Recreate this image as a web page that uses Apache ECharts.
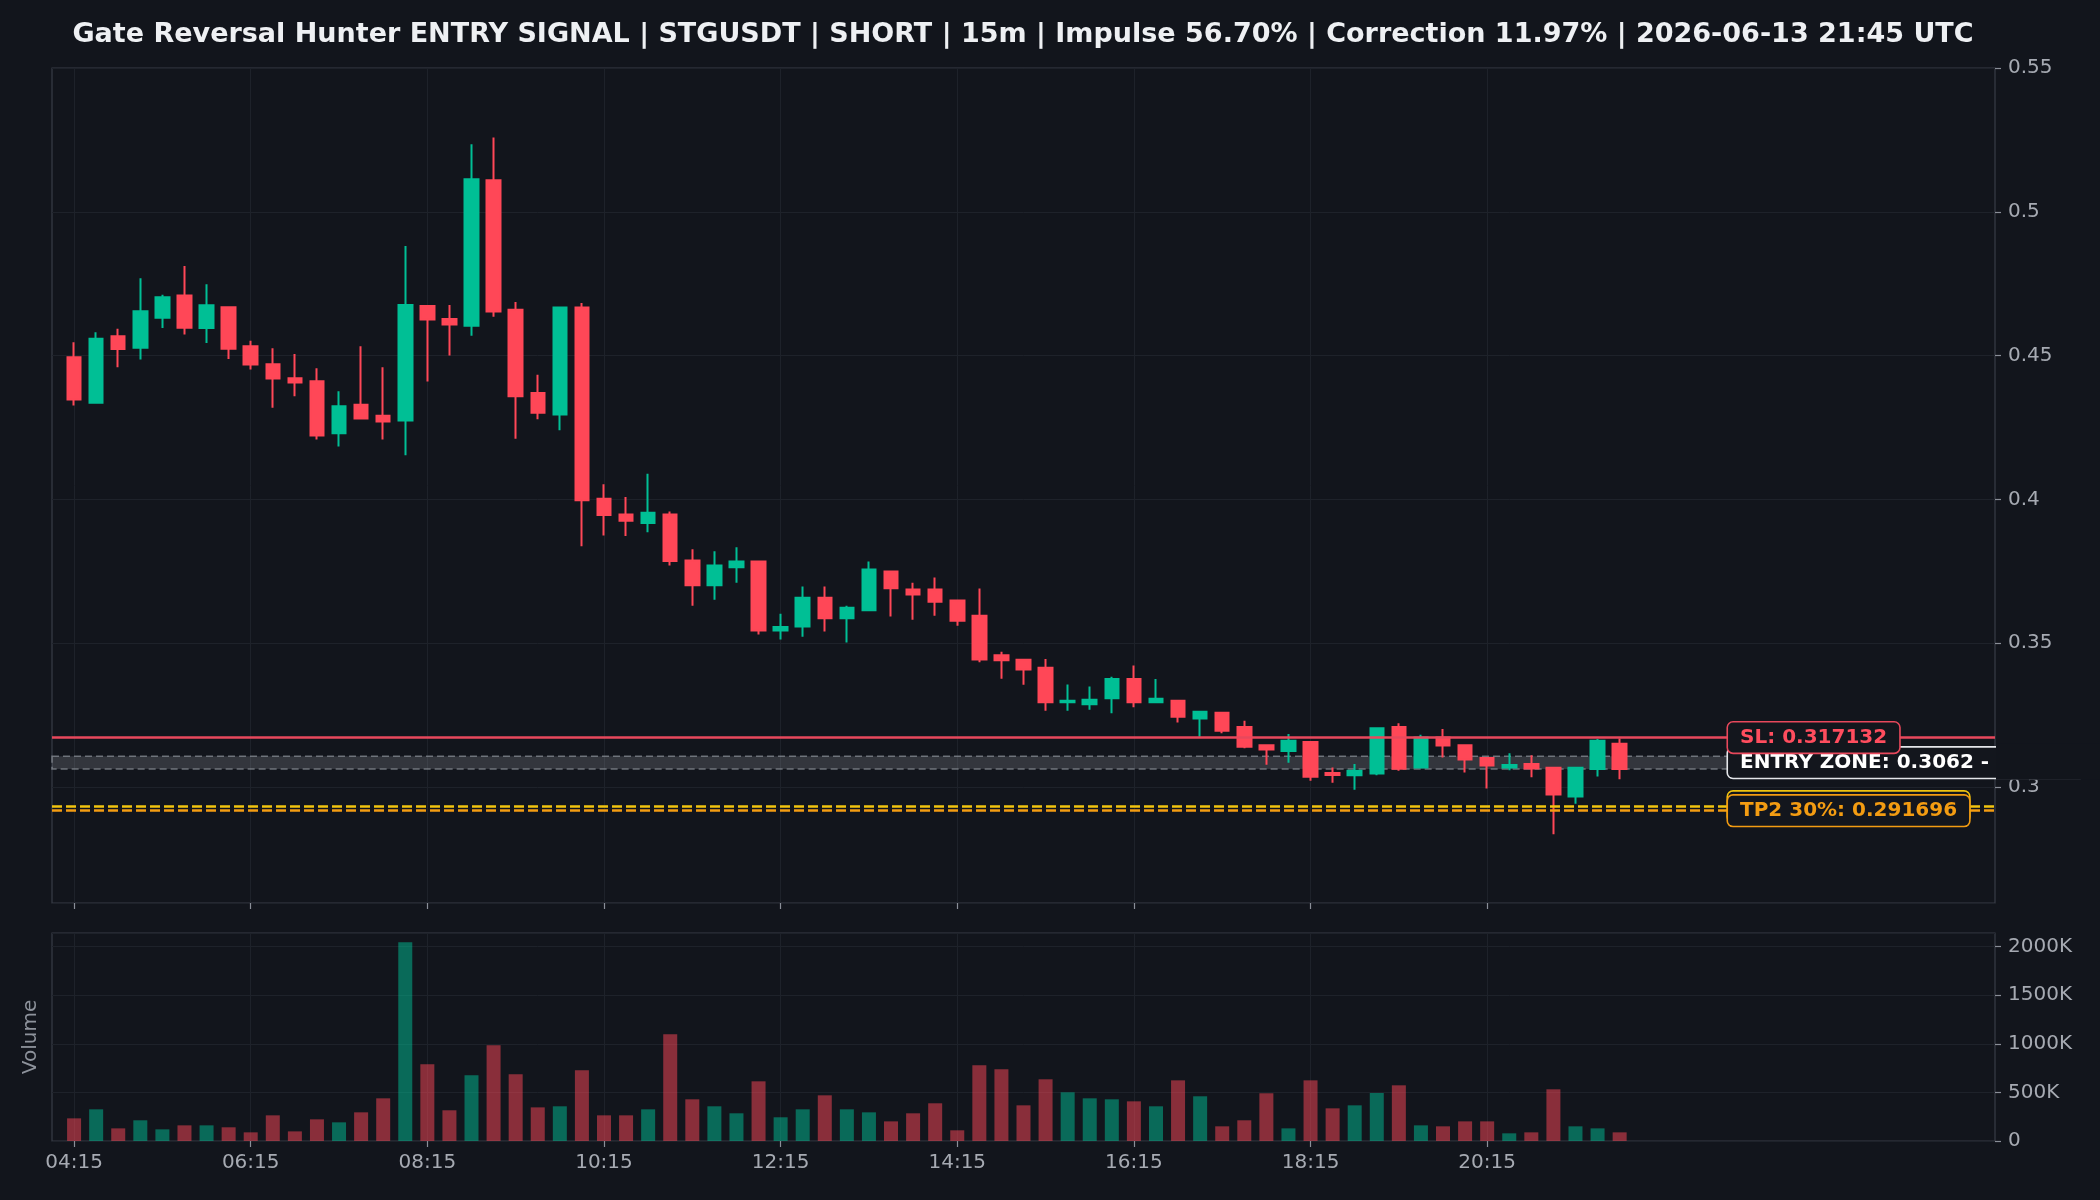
<!DOCTYPE html>
<html>
<head>
<meta charset="utf-8">
<script src="https://cdn.jsdelivr.net/npm/echarts@6/dist/echarts.min.js"></script>
<style>
  html, body { margin: 0; padding: 0; background: #12151c; }
  #chart { width: 2100px; height: 1200px; }
</style>
</head>
<body>
<div id="chart"></div>
<script>
var titleText = 'Gate Reversal Hunter ENTRY SIGNAL | STGUSDT | SHORT | 15m | Impulse 56.70% | Correction 11.97% | 2026-06-13 21:45 UTC';

var times = ['04:15','04:30','04:45','05:00','05:15','05:30','05:45','06:00','06:15','06:30','06:45','07:00','07:15','07:30','07:45','08:00',
  '08:15','08:30','08:45','09:00','09:15','09:30','09:45','10:00','10:15','10:30','10:45','11:00','11:15','11:30','11:45','12:00',
  '12:15','12:30','12:45','13:00','13:15','13:30','13:45','14:00','14:15','14:30','14:45','15:00','15:15','15:30','15:45','16:00',
  '16:15','16:30','16:45','17:00','17:15','17:30','17:45','18:00','18:15','18:30','18:45','19:00','19:15','19:30','19:45','20:00',
  '20:15','20:30','20:45','21:00','21:15','21:30','21:45'];
var tickTimes = ['04:15','06:15','08:15','10:15','12:15','14:15','16:15','18:15','20:15'];

var opens  = [0.4494,0.4336,0.4567,0.4527,0.4631,0.4709,0.4596,0.4668,0.4532,0.4470,0.4421,0.4411,0.4230,0.4329,0.4291,0.4274,
  0.4672,0.4627,0.4604,0.5110,0.4659,0.4370,0.4295,0.4667,0.4002,0.3947,0.3918,0.3947,0.3787,0.3701,0.3764,0.3784,
  0.3544,0.3558,0.3658,0.3586,0.3614,0.3749,0.3686,0.3686,0.3648,0.3595,0.3458,0.3442,0.3414,0.3294,0.3287,0.3308,
  0.3375,0.3294,0.3299,0.3238,0.3258,0.3208,0.3145,0.3125,0.3156,0.3048,0.3040,0.3046,0.3208,0.3067,0.3172,0.3145,
  0.3100,0.3067,0.3079,0.3066,0.2966,0.3062,0.3150];
var closes = [0.4347,0.4558,0.4523,0.4654,0.4703,0.4597,0.4675,0.4524,0.4469,0.4420,0.4406,0.4222,0.4324,0.4281,0.4271,0.4676,
  0.4625,0.4608,0.5113,0.4653,0.4358,0.4301,0.4667,0.3997,0.3945,0.3925,0.3953,0.3785,0.3701,0.3770,0.3784,0.3544,
  0.3556,0.3658,0.3586,0.3623,0.3756,0.3691,0.3669,0.3644,0.3578,0.3443,0.3440,0.3408,0.3294,0.3299,0.3303,0.3375,
  0.3294,0.3306,0.3244,0.3261,0.3195,0.3139,0.3130,0.3160,0.3035,0.3041,0.3056,0.3204,0.3063,0.3172,0.3144,0.3095,
  0.3074,0.3076,0.3064,0.2973,0.3066,0.3160,0.3062];
var lows   = [0.4326,0.4332,0.4459,0.4486,0.4596,0.4573,0.4544,0.4488,0.4451,0.4318,0.4358,0.4208,0.4184,0.4280,0.4208,0.4153,
  0.4410,0.4500,0.4569,0.4635,0.4211,0.4278,0.4240,0.3837,0.3874,0.3872,0.3885,0.3770,0.3630,0.3651,0.3710,0.3530,
  0.3512,0.3522,0.3540,0.3502,0.3614,0.3592,0.3581,0.3595,0.3560,0.3433,0.3376,0.3355,0.3265,0.3265,0.3268,0.3256,
  0.3277,0.3294,0.3224,0.3174,0.3186,0.3134,0.3077,0.3084,0.3021,0.3014,0.2990,0.3040,0.3056,0.3067,0.3102,0.3050,
  0.2994,0.3058,0.3033,0.2835,0.2941,0.3036,0.3026];
var highs  = [0.4546,0.4581,0.4593,0.4769,0.4711,0.4811,0.4748,0.4670,0.4551,0.4525,0.4505,0.4456,0.4376,0.4532,0.4459,0.4881,
  0.4676,0.4676,0.5235,0.5258,0.4686,0.4433,0.4668,0.4683,0.4052,0.4008,0.4089,0.3958,0.3826,0.3819,0.3833,0.3786,
  0.3602,0.3697,0.3697,0.3630,0.3784,0.3752,0.3710,0.3728,0.3650,0.3690,0.3470,0.3444,0.3445,0.3356,0.3349,0.3383,
  0.3422,0.3375,0.3300,0.3262,0.3261,0.3230,0.3146,0.3184,0.3157,0.3067,0.3079,0.3205,0.3221,0.3181,0.3201,0.3146,
  0.3101,0.3117,0.3110,0.3070,0.3067,0.3166,0.3168];
var volumes = [233e3,326e3,130e3,213e3,120e3,161e3,161e3,141e3,89e3,264e3,99e3,223e3,192e3,295e3,439e3,2045e3,
  789e3,316e3,676e3,985e3,686e3,346e3,357e3,727e3,264e3,264e3,326e3,1098e3,429e3,357e3,285e3,614e3,
  244e3,326e3,470e3,326e3,295e3,202e3,285e3,388e3,110e3,779e3,738e3,367e3,635e3,501e3,439e3,429e3,
  408e3,357e3,624e3,460e3,151e3,213e3,491e3,130e3,624e3,336e3,367e3,494e3,573e3,161e3,151e3,202e3,
  202e3,79e3,89e3,532e3,151e3,130e3,89e3];

var slPrice = 0.317132;
var entryLow = 0.3062;
var entryHigh = 0.3106;
var tp1Price = 0.2931;
var tp2Price = 0.291696;
var slText = 'SL: 0.317132';
var entryText = 'ENTRY ZONE: 0.3062 - 0.3106';
var tp1Text = 'TP1 40%: 0.293100';
var tp2Text = 'TP2 30%: 0.291696';

var bg = '#12151c';
var up = '#00bf95';
var down = '#ff4757';
var textGrey = '#a6aab2';
var gridCol = '#1e222a';
var frameCol = '#383c46';

// one empty slot before the first bar, 17 after the last one
var padBefore = 1, padAfter = 17;
var cats = [];
for (var i = 0; i < padBefore; i++) cats.push('pre' + i);
cats = cats.concat(times);
for (var i = 0; i < padAfter; i++) cats.push('post' + i);
var labelSlot = padBefore + 75;

var candleData = [], volData = [];
for (var i = 0; i < times.length; i++) {
  candleData.push([i + padBefore, opens[i], closes[i], lows[i], highs[i]]);
  volData.push([i + padBefore, volumes[i]]);
}

function isTick(index, value) { return tickTimes.indexOf(value) >= 0; }

function boxLabel(color, border) {
  return {
    show: true, position: 'right', distance: -2,
    color: color, fontSize: 20, fontWeight: 'bold', fontFamily: 'DejaVu Sans', lineHeight: 22,
    backgroundColor: '#13161d', borderColor: border, borderWidth: 1.6, borderRadius: 5,
    padding: [4, 12, 4, 12]
  };
}

var chart = echarts.init(document.getElementById('chart'));
var option = {
  animation: false,
  backgroundColor: bg,
  grid: [
    { left: 52, right: 105, top: 68, height: 835, show: true, borderColor: frameCol, borderWidth: 1.2, backgroundColor: 'transparent' },
    { left: 52, right: 105, top: 933, height: 208, show: true, borderColor: frameCol, borderWidth: 1.2, backgroundColor: 'transparent' }
  ],
  xAxis: [
    {
      type: 'category', gridIndex: 0, data: cats, boundaryGap: false,
      axisLine: { show: false }, axisLabel: { show: false },
      axisTick: { show: true, interval: isTick, length: 6, lineStyle: { color: '#8a8f98', width: 1.2 } },
      splitLine: { show: true, interval: isTick, lineStyle: { color: gridCol, width: 1 } }
    },
    {
      type: 'category', gridIndex: 1, data: cats, boundaryGap: false,
      axisLine: { show: false },
      axisLabel: { interval: isTick, color: textGrey, fontSize: 20, fontFamily: 'DejaVu Sans', margin: 12 },
      axisTick: { show: true, interval: isTick, length: 6, lineStyle: { color: '#8a8f98', width: 1.2 } },
      splitLine: { show: true, interval: isTick, lineStyle: { color: gridCol, width: 1 } }
    }
  ],
  yAxis: [
    {
      type: 'value', gridIndex: 0, position: 'right', min: 0.2596, max: 0.55, splitNumber: 5,
      axisLine: { show: false },
      axisTick: { show: true, length: 6, lineStyle: { color: '#8a8f98', width: 1.2 } },
      axisLabel: { color: textGrey, fontSize: 20, fontFamily: 'DejaVu Sans', margin: 13, showMinLabel: false },
      splitLine: { lineStyle: { color: gridCol, width: 1 } }
    },
    {
      type: 'value', gridIndex: 1, position: 'right', min: 0, max: 2140000, interval: 500000,
      axisLine: { show: false },
      axisTick: { show: true, length: 6, lineStyle: { color: '#8a8f98', width: 1.2 } },
      axisLabel: {
        color: textGrey, fontSize: 20, fontFamily: 'DejaVu Sans', margin: 13, showMaxLabel: false,
        formatter: function (v) { return v === 0 ? '0' : (v / 1000) + 'K'; }
      },
      splitLine: { lineStyle: { color: gridCol, width: 1 } }
    }
  ],
  series: [
    {
      type: 'candlestick', xAxisIndex: 0, yAxisIndex: 0, z: 3,
      data: candleData, encode: { x: 0, y: [1, 2, 3, 4] },
      barWidth: 14,
      itemStyle: { color: up, color0: down, borderColor: up, borderColor0: down, borderWidth: 2 }
    },
    {
      type: 'bar', xAxisIndex: 1, yAxisIndex: 1,
      data: volData, barWidth: 14,
      itemStyle: {
        color: function (p) {
          var k = p.dataIndex;
          return closes[k] >= opens[k] ? 'rgba(0,191,149,0.5)' : 'rgba(255,71,87,0.5)';
        }
      }
    },
    {
      type: 'line', xAxisIndex: 0, yAxisIndex: 0, data: [], z: 5,
      markArea: {
        silent: true,
        itemStyle: { color: 'rgba(170,175,182,0.22)', borderColor: 'rgba(135,140,148,0.75)', borderWidth: 1.5, borderType: [7, 4] },
        data: [[{ yAxis: entryHigh }, { yAxis: entryLow }]]
      },
      markLine: {
        silent: true, symbol: 'none', precision: 6, label: { show: false },
        data: [
          { yAxis: slPrice, lineStyle: { color: '#e8485c', width: 2.5, type: 'solid' } },
          { yAxis: tp1Price, lineStyle: { color: '#f1c40f', width: 2.5, type: [10, 4] } },
          { yAxis: tp2Price, lineStyle: { color: '#f39c12', width: 2.5, type: [10, 4] } }
        ]
      }
    },
    {
      type: 'scatter', xAxisIndex: 0, yAxisIndex: 0, symbolSize: 0, z: 10, silent: true,
      itemStyle: { opacity: 1 },
      data: [
        { value: [labelSlot, (entryLow + entryHigh) / 2], label: Object.assign(boxLabel('#ffffff', '#e4e6ea'), { formatter: entryText }) },
        { value: [labelSlot, slPrice], label: Object.assign(boxLabel('#ff4d5e', '#e8485c'), { formatter: slText }) },
        { value: [labelSlot, tp1Price], label: Object.assign(boxLabel('#f1c40f', '#f1c40f'), { formatter: tp1Text }) },
        { value: [labelSlot, tp2Price], label: Object.assign(boxLabel('#f39c12', '#f39c12'), { formatter: tp2Text }) }
      ]
    }
  ]
};
chart.setOption(option);

// hide the part of the entry label that runs past the right frame
var midY = chart.convertToPixel({ yAxisIndex: 0 }, (entryLow + entryHigh) / 2);
var rightX = chart.convertToPixel({ xAxisIndex: 0 }, cats.length - 1);
chart.setOption({
  graphic: [
    { type: 'rect', z: 100, shape: { x: rightX + 1, y: midY - 19, width: 2100 - rightX, height: 36 }, style: { fill: bg } },
    { type: 'text', z: 100, x: 1023, y: 35, style: { text: titleText, fill: '#eef0f3', font: 'bold 27px "DejaVu Sans"', align: 'center', verticalAlign: 'middle' } },
    { type: 'text', z: 100, x: 31, y: 1037, rotation: Math.PI / 2, style: { text: 'Volume', fill: '#8d929b', font: '20px "DejaVu Sans"', align: 'center', verticalAlign: 'middle' } }
  ]
});
</script>
</body>
</html>
